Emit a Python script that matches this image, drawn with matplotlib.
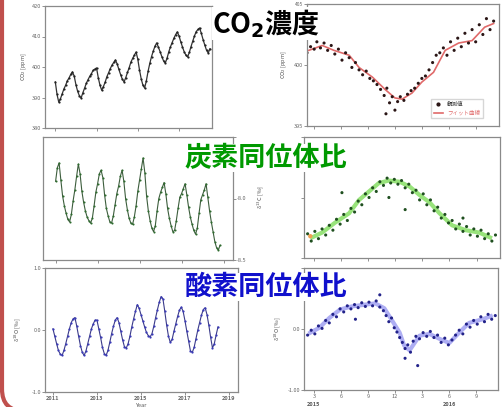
import matplotlib.pyplot as plt
from matplotlib.lines import Line2D
from matplotlib.patches import FancyBboxPatch
from matplotlib.transforms import IdentityTransform
import numpy as np

# ---------------------------------------------------------------------------
# Data
# Left column: monthly series starting January 2011
co2_monthly = [
    395.1, 391.0, 388.5, 389.6, 391.2, 392.8, 394.0, 395.5, 396.4, 397.6, 398.4, 397.0,
    394.2, 392.0, 390.6, 389.8, 391.5, 393.0, 394.6, 395.8, 396.9, 397.8, 398.9, 399.3,
    399.7, 396.5, 394.0, 392.4, 393.6, 395.0, 396.8, 398.1, 399.5, 400.6, 401.5, 402.3,
    401.0, 399.2, 397.5, 396.0, 395.1, 396.5, 398.2, 399.8, 401.6, 402.8, 403.9, 404.9,
    402.6, 399.0, 396.1, 394.0, 393.1, 395.5, 398.6, 401.2, 403.4, 405.2, 406.8, 407.9,
    406.5, 405.0, 403.4, 402.0, 401.3, 402.8, 404.9, 406.6, 408.0, 409.4, 410.6, 411.5,
    410.2, 408.3, 406.6, 405.0, 403.9, 403.3, 404.8, 406.7, 408.5, 410.2, 411.6, 412.3,
    412.8, 411.0, 409.0, 407.2, 405.5, 404.6, 406.0,
]
d13c_monthly = [
    -7.86, -7.75, -7.71, -7.85, -7.98, -8.06, -8.12, -8.17, -8.19, -8.13, -8.02, -7.93,
    -7.82, -7.72, -7.80, -7.94, -8.03, -8.10, -8.15, -8.18, -8.20, -8.16, -8.06, -7.95,
    -7.88, -7.80, -7.77, -7.83, -7.97, -8.08, -8.14, -8.19, -8.20, -8.14, -8.05, -7.96,
    -7.90, -7.82, -7.77, -7.86, -8.00, -8.09, -8.16, -8.20, -8.21, -8.15, -8.06, -7.94,
    -7.85, -7.76, -7.67, -7.79, -7.98, -8.10, -8.18, -8.24, -8.27, -8.22, -8.10, -8.00,
    -7.95, -7.91, -7.87, -7.96, -8.08, -8.16, -8.22, -8.27, -8.26, -8.18, -8.08, -7.99,
    -7.96, -7.92, -7.88, -7.97, -8.07, -8.15, -8.21, -8.26, -8.29, -8.24, -8.12, -8.01,
    -7.97, -7.93, -7.88, -7.99, -8.10, -8.19, -8.27, -8.35, -8.40, -8.42, -8.38,
]
d18o_monthly = [
    0.02, -0.10, -0.22, -0.33, -0.39, -0.41, -0.33, -0.22, -0.10, 0.02, 0.12, 0.18,
    0.20, 0.06, -0.10, -0.25, -0.36, -0.41, -0.34, -0.22, -0.10, 0.02, 0.10, 0.16,
    0.16, 0.02, -0.12, -0.28, -0.38, -0.41, -0.33, -0.20, -0.06, 0.06, 0.16, 0.20,
    0.12, -0.02, -0.16, -0.27, -0.29, -0.22, -0.10, 0.05, 0.18, 0.30, 0.41, 0.35,
    0.25, 0.15, 0.05, -0.04, -0.09, -0.11, -0.06, 0.06, 0.20, 0.33, 0.45, 0.54,
    0.50, 0.30, 0.08, -0.10, -0.20, -0.15, -0.02, 0.10, 0.22, 0.32, 0.37, 0.30,
    0.15, -0.02, -0.18, -0.34, -0.36, -0.28, -0.14, 0.00, 0.12, 0.24, 0.33, 0.36,
    0.25, 0.08, -0.12, -0.29, -0.22, -0.08, 0.05,
]

# Right column: x = month counted from January 2015
co2_obs_m = [2.2, 2.6, 3.0, 3.3, 3.7, 4.1, 4.5, 4.9, 5.3, 5.7, 6.1, 6.5, 6.9, 7.2, 7.6,
             8.0, 8.4, 8.8, 9.2, 9.6, 10.0, 10.4, 10.8, 11.0, 11.1, 11.4, 11.7, 12.0,
             12.3, 12.6, 13.0, 13.4, 13.8, 14.2, 14.6, 15.0, 15.4, 15.8, 16.2, 16.6,
             17.0, 17.4, 17.8, 18.2, 18.6, 19.0, 19.4, 19.8, 20.2, 20.6, 21.0, 21.4,
             21.8, 22.2, 22.6, 23.0]
co2_obs_v = [401.0, 401.5, 401.3, 401.9, 401.4, 401.8, 401.2, 401.6, 400.9, 401.3,
             400.4, 401.0, 400.6, 399.8, 400.2, 399.6, 399.2, 399.5, 398.9, 398.7,
             398.4, 398.0, 397.5, 396.0, 398.1, 396.9, 397.4, 396.3, 397.0, 397.4,
             397.1, 397.6, 397.9, 398.1, 398.5, 398.9, 399.1, 399.6, 400.2, 400.8,
             401.0, 401.4, 400.8, 401.9, 401.2, 402.2, 401.5, 402.6, 401.8, 402.9,
             401.9, 403.3, 402.5, 403.8, 402.9, 403.6]
co2_fit_m = [2.4, 3.9, 5.2, 6.9, 8.0, 9.5, 10.9, 12.0, 12.8, 13.9, 15.0, 16.3, 17.6,
             19.1, 20.6, 22.0, 23.0]
co2_fit_v = [401.2, 401.6, 401.2, 400.8, 399.8, 399.0, 398.0, 397.3, 397.2, 397.7,
             398.6, 399.4, 401.2, 401.8, 402.0, 403.1, 403.4]

d13c_obs_m = [2.3, 2.7, 3.1, 3.5, 3.9, 4.3, 4.7, 5.1, 5.5, 5.9, 6.1, 6.3, 6.7, 7.1, 7.5,
              7.9, 8.3, 8.7, 9.1, 9.5, 9.9, 10.3, 10.7, 11.1, 11.3, 11.5, 11.9, 12.3,
              12.7, 13.1, 13.1, 13.5, 13.9, 14.3, 14.7, 15.1, 15.5, 15.9, 16.3, 16.7,
              17.1, 17.5, 17.9, 18.3, 18.7, 19.1, 19.5, 19.5, 19.9, 20.3, 20.7, 21.1,
              21.5, 21.9, 22.3, 22.7, 23.1]
d13c_obs_v = [-8.40, -8.46, -8.38, -8.44, -8.36, -8.41, -8.33, -8.37, -8.28, -8.32,
              -8.06, -8.24, -8.29, -8.19, -8.22, -8.13, -8.16, -8.07, -8.10, -8.02,
              -8.05, -7.97, -8.00, -7.94, -8.10, -7.98, -7.95, -7.99, -7.96, -8.02,
              -8.20, -7.99, -8.06, -8.04, -8.12, -8.07, -8.16, -8.12, -8.21, -8.18,
              -8.27, -8.24, -8.31, -8.29, -8.36, -8.32, -8.38, -8.27, -8.34, -8.41,
              -8.36, -8.42, -8.37, -8.44, -8.40, -8.46, -8.41]
d13c_fit_m = [2.8, 3.9, 5.3, 6.9, 8.0, 9.1, 10.2, 11.3, 12.5, 13.6, 14.7, 15.8, 16.9,
              18.3, 19.8, 21.3, 22.5]
d13c_fit_v = [-8.43, -8.39, -8.31, -8.23, -8.12, -8.05, -7.98, -7.96, -7.97, -8.01,
              -8.08, -8.14, -8.23, -8.33, -8.37, -8.39, -8.43]

d18o_obs_m = [2.3, 2.7, 3.1, 3.5, 3.9, 4.3, 4.7, 5.1, 5.5, 5.9, 6.3, 6.7, 7.1, 7.5, 7.6,
              7.9, 8.3, 8.7, 9.1, 9.5, 9.9, 10.3, 10.3, 10.7, 11.0, 11.3, 11.6, 11.9,
              12.2, 12.5, 12.8, 13.1, 13.1, 13.4, 13.7, 14.0, 14.3, 14.5, 14.7, 15.1,
              15.5, 15.9, 16.3, 16.7, 17.1, 17.5, 17.9, 18.3, 18.7, 19.1, 19.5, 19.9,
              20.3, 20.7, 21.1, 21.5, 21.9, 22.3, 22.7, 23.1]
d18o_obs_v = [-0.10, -0.02, -0.08, 0.05, 0.01, 0.14, 0.10, 0.24, 0.20, 0.33, 0.28, 0.38,
              0.33, 0.40, 0.16, 0.35, 0.43, 0.37, 0.44, 0.38, 0.46, 0.36, 0.56, 0.30,
              0.22, 0.12, 0.18, 0.02, -0.05, -0.14, -0.22, -0.32, -0.48, -0.26, -0.38,
              -0.20, -0.12, -0.60, -0.16, -0.06, -0.12, -0.04, -0.14, -0.10, -0.22,
              -0.15, -0.26, -0.18, -0.10, -0.02, -0.08, 0.08, 0.03, 0.14, 0.08, 0.20,
              0.12, 0.24, 0.16, 0.22]
d18o_fit_m = [2.6, 3.6, 4.7, 5.9, 7.2, 8.7, 9.8, 10.8, 11.7, 12.5, 13.0, 13.6, 14.7,
              15.8, 16.9, 18.0, 19.1, 20.2, 21.7, 22.6]
d18o_fit_v = [-0.06, 0.02, 0.18, 0.32, 0.37, 0.40, 0.42, 0.34, 0.13, -0.06, -0.27,
              -0.35, -0.11, -0.08, -0.16, -0.23, -0.06, 0.10, 0.16, 0.21]

year_ticks = [2011, 2013, 2015, 2017, 2019]
month_ticks = [3, 6, 9, 12, 15, 18, 21]
month_labels = ['3', '6', '9', '12', '3', '6', '9']

titles = [r'CO$_\mathbf{2}$濃度', '炭素同位体比', '酸素同位体比']
title_colors = ['black', '#009900', '#1010cc']

# ---------------------------------------------------------------------------
plt.rcParams['font.family'] = ['Noto Sans CJK JP', 'DejaVu Sans']
plt.rcParams['axes.unicode_minus'] = False

W, H = 504, 407
fig = plt.figure(figsize=(W / 100, H / 100), dpi=100)
fig.patch.set_facecolor('white')


def px_axes(x0, y0, x1, y1):
    # axes placed by pixel box (top-left origin)
    return fig.add_axes([x0 / W, 1 - y1 / H, (x1 - x0) / W, (y1 - y0) / H])


def style(ax):
    for s in ax.spines.values():
        s.set_color('#8a8a8a')
        s.set_linewidth(0.9)
    ax.tick_params(labelsize=4, colors='#666666', length=2, width=0.5, pad=1)
    ax.set_xticklabels([])
    ax.set_yticklabels([])


def months(n):
    return 2011 + np.arange(n) / 12


# Top left: CO2 long record
ax1 = px_axes(45, 6, 212, 128)
style(ax1)
ax1.plot(months(len(co2_monthly)), co2_monthly, color='#333333', lw=0.9,
         marker='o', ms=1.6, mfc='#222222', mec='none')
ax1.set_xlim(2010.5, 2018.6)
ax1.set_ylim(380, 420)
ax1.set_yticks([380, 390, 400, 410, 420])
ax1.set_yticklabels(['380', '390', '400', '410', '420'])
ax1.set_xticks(year_ticks[:-1])
ax1.set_ylabel('CO$_2$ [ppm]', fontsize=4, color='#555555', labelpad=2)

# Middle left: d13C long record
ax2 = px_axes(43, 137, 233, 260)
style(ax2)
ax2.plot(months(len(d13c_monthly)), d13c_monthly, color='#3d5e3d', lw=0.8,
         marker='o', ms=1.5, mfc='#2e6b2e', mec='none')
ax2.set_xlim(2010.4, 2019.45)
ax2.set_ylim(-8.5, -7.5)
ax2.yaxis.tick_right()
ax2.set_yticks([-8.5, -8.0, -7.5])
ax2.set_yticklabels(['-8.5', '-8.0', ''])
ax2.set_xticks(year_ticks)

# Bottom left: d18O long record
ax3 = px_axes(45, 268, 238, 392)
style(ax3)
ax3.plot(months(len(d18o_monthly)), d18o_monthly, color='#3b3b8a', lw=0.8,
         marker='o', ms=1.6, mfc='#3a3ab8', mec='none')
ax3.set_xlim(2010.64, 2019.41)
ax3.set_ylim(-1, 1)
ax3.set_yticks([-1, 0, 1])
ax3.set_yticklabels(['-1.0', '0.0', '1.0'])
ax3.set_xticks(year_ticks)
ax3.set_xticklabels([str(y) for y in year_ticks], fontweight='bold')
ax3.set_ylabel('δ$^{18}$O [‰]', fontsize=4, color='#555555', labelpad=6)
ax3.set_xlabel('Year', fontsize=4, color='#555555', labelpad=1)

# Top right: CO2 short record with fit
ax4 = px_axes(307, 4, 499, 126)
style(ax4)
ax4.plot(co2_fit_m, co2_fit_v, color='#e06a6a', lw=1.2, zorder=1)
ax4.scatter(co2_obs_m, co2_obs_v, s=5, color='#2a1515', edgecolors='none', zorder=2)
ax4.set_xlim(2.2, 23.6)
ax4.set_ylim(395, 405)
ax4.set_yticks([395, 400, 405])
ax4.set_yticklabels(['395', '400', '405'])
ax4.get_yticklabels()[-1].set_fontsize(3.5)
ax4.set_xticks(month_ticks)
ax4.set_ylabel('CO$_2$ [ppm]', fontsize=4, color='#555555', labelpad=3)
handles = [Line2D([], [], ls='none', marker='o', ms=2, color='#2a1515'),
           Line2D([], [], color='#e06a6a', lw=1.2)]
ax4.legend(handles, ['観測値', 'フィット曲線'], loc='lower right', fontsize=4,
           labelcolor=['#333333', '#e06a6a'], frameon=True, edgecolor='#cccccc',
           fancybox=False, borderpad=0.5, handlelength=1.5,
           bbox_to_anchor=(0.93, 0.04))

# Middle right: d13C short record
ax5 = px_axes(304, 137, 500, 258)
style(ax5)
ax5.plot(d13c_fit_m, d13c_fit_v, color='#7fdc5a', lw=3, alpha=0.8, zorder=1)
ax5.scatter(d13c_obs_m, d13c_obs_v, s=5, color='#1f4f1f', edgecolors='none', zorder=2)
ax5.scatter([2.6], [-8.42], s=10, color='#f0a050', edgecolors='none', zorder=3)
ax5.set_xlim(1.9, 23.6)
ax5.set_ylim(-8.6, -7.6)
ax5.set_yticks([-8.6, -8.1, -7.6])
ax5.set_xticks(month_ticks)
ax5.set_ylabel('δ$^{13}$C [‰]', fontsize=4, color='#555555', labelpad=24)

# Bottom right: d18O short record
ax6 = px_axes(304, 268, 498, 390)
style(ax6)
ax6.plot(d18o_fit_m, d18o_fit_v, color='#9a9af0', lw=3, alpha=0.8, zorder=1)
ax6.scatter(d18o_obs_m, d18o_obs_v, s=5, color='#22228a', edgecolors='none', zorder=2)
ax6.set_xlim(1.9, 23.4)
ax6.set_ylim(-1, 1)
ax6.set_yticks([-1, 0, 1])
ax6.set_yticklabels(['-1.00', '0.0', ''])
ax6.set_xticks(month_ticks)
ax6.set_xticklabels(month_labels)
ax6.set_ylabel('δ$^{18}$O [‰]', fontsize=4, color='#555555', labelpad=3)
ax6.text(3, -1.2, '2015', fontsize=4, fontweight='bold', color='#555555',
         ha='center', va='top', clip_on=False)
ax6.text(18, -1.2, '2016', fontsize=4, fontweight='bold', color='#555555',
         ha='center', va='top', clip_on=False)

# Overlaid titles
for (cx, cy), text, col in zip([(266, 23.5), (266, 158), (266, 287)], titles, title_colors):
    fig.text(cx / W, 1 - cy / H, text, color=col, fontsize=19.5, fontweight='bold',
             ha='center', va='center', zorder=10,
             bbox=dict(facecolor='white', edgecolor='none', pad=0))

# Slide frame: red border with a rounded bottom-left corner
frame = FancyBboxPatch((2, -4), 700, 600, boxstyle='round,pad=0,rounding_size=22',
                       transform=IdentityTransform(), fill=False,
                       edgecolor='#c0504d', lw=3)
fig.add_artist(frame)

fig.savefig('out.png', dpi=100)
